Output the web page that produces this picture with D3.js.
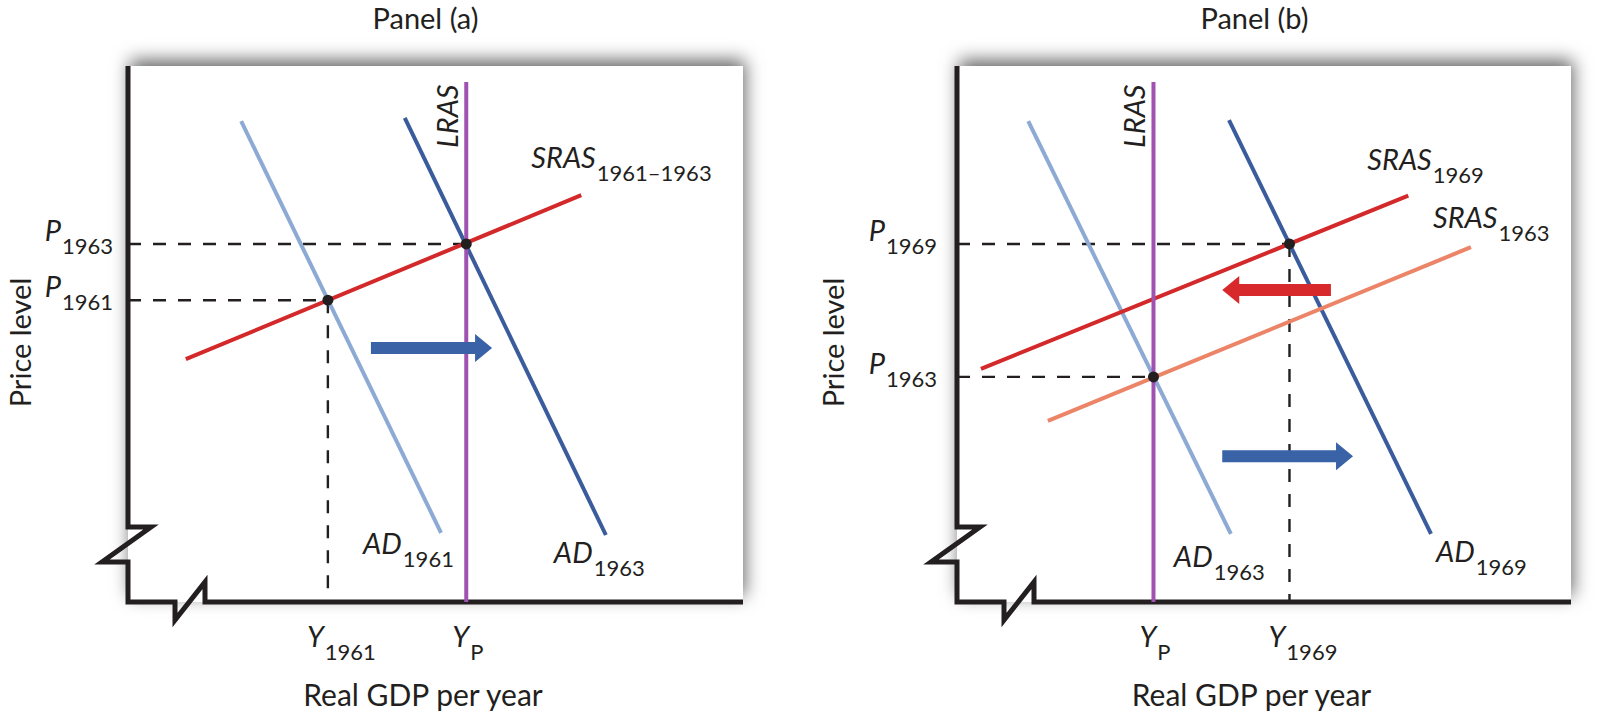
<!DOCTYPE html>
<html>
<head>
<meta charset="utf-8">
<script src="https://cdn.jsdelivr.net/npm/d3@7"></script>
<style>
  html, body { margin: 0; padding: 0; background: #fff; }
  svg { display: block; font-family: Lato, "Open Sans", sans-serif; }
</style>
</head>
<body>
<svg id="chart" width="1609" height="716"></svg>
<script>
// ---- data (both panels use a 0..100 index for real GDP and price level) ----
const panelTitles = ["Panel (a)", "Panel (b)"];
const axisTitles = { x: "Real GDP per year", y: "Price level" };

// panel (a)
const lrasA = 55;                                  // potential output Y_P
const ad1961A = [[18.4, 89.7], [50.9, 12.9]];
const ad1963A = [[45.0, 90.3], [77.7, 12.5]];
const sras6163A = [[9.4, 45.3], [73.7, 75.9]];
const eqA = [ { x: 55.0, y: 66.8 }, { x: 32.5, y: 56.3 } ];   // 1963, 1961
const priceTicksA = [ { v: 66.8, sub: "1963" }, { v: 56.3, sub: "1961" } ];
const gdpTicksA = [ { v: 32.5, main: "Y", sub: "1961" }, { v: 55.0, main: "Y", sub: "P" } ];
const shiftA = [ { from: [39.5, 47.4], to: [59.2, 47.4], kind: "ad" } ];

// panel (b)
const lrasB = 32;
const ad1963B = [[11.6, 89.7], [44.6, 12.7]];
const ad1969B = [[44.3, 89.9], [77.2, 12.7]];
const sras1969B = [[3.9, 43.5], [73.5, 75.8]];
const sras1963B = [[14.8, 33.8], [83.7, 66.2]];
const eqB = [ { x: 54.15, y: 66.8 }, { x: 32.0, y: 42.0 } ];  // 1969, 1963
const priceTicksB = [ { v: 66.8, sub: "1969" }, { v: 42.0, sub: "1963" } ];
const gdpTicksB = [ { v: 32.0, main: "Y", sub: "P" }, { v: 54.15, main: "Y", sub: "1969" } ];
const shiftB = [
  { from: [60.9, 58.2], to: [43.2, 58.2], kind: "sras" },
  { from: [43.2, 27.2], to: [64.5, 27.2], kind: "ad" }
];

// ---- styles ----
const ink = "#231f20";
const colors = {
  adLight: "#8daad4", adDark: "#3b5c9c", sras: "#d3292a", srasLight: "#ec8468",
  lras: "#a052b0", arrowAd: "#3a62a7", arrowSras: "#d7282c"
};

const svg = d3.select("#chart");
const defs = svg.append("defs");
const shadow = defs.append("filter").attr("id", "panel-shadow")
  .attr("x", "-10%").attr("y", "-15%").attr("width", "120%").attr("height", "130%");
shadow.append("feDropShadow")
  .attr("dx", 2).attr("dy", -6).attr("stdDeviation", 9)
  .attr("flood-color", "#000").attr("flood-opacity", 0.6);

function subText(g, x, y, main, sub, anchor) {
  const t = g.append("text").attr("x", x).attr("y", y)
    .attr("text-anchor", anchor || "start").attr("fill", ink);
  t.append("tspan").attr("font-style", "italic").attr("font-size", 29).text(main);
  t.append("tspan").attr("font-size", 22).attr("dy", 13).attr("dx", 1).text(sub);
  return t;
}

function arrow(g, x, y, d, color) {
  const x1 = x(d.from[0]), x2 = x(d.to[0]), yc = y(d.from[1]);
  const dir = Math.sign(x2 - x1), xh = x2 - dir * 17;
  const pts = [[x1, yc - 6], [xh, yc - 6], [xh, yc - 14], [x2, yc],
               [xh, yc + 14], [xh, yc + 6], [x1, yc + 6]];
  g.append("path").attr("d", "M" + pts.join("L") + "Z").attr("fill", color);
}

function drawPanel(cfg) {
  const box = cfg.box;
  const x = d3.scaleLinear().domain([0, 100]).range([box.left, box.right]);
  const y = d3.scaleLinear().domain([0, 100]).range([box.bottom, box.top]);
  const line = d3.line().x(d => x(d[0])).y(d => y(d[1]));
  const g = svg.append("g");

  g.append("text").attr("x", cfg.titleX).attr("y", 29).attr("text-anchor", "middle")
    .attr("font-size", 29).attr("fill", ink).text(cfg.title);

  g.append("rect").attr("x", box.left).attr("y", box.top)
    .attr("width", box.right - box.left).attr("height", box.bottom - box.top)
    .attr("fill", "#fff").attr("filter", "url(#panel-shadow)");

  // dashed guides
  const guides = g.append("g").attr("stroke", ink).attr("stroke-width", 2.4)
    .attr("stroke-dasharray", "13,12").attr("fill", "none");
  cfg.eq.forEach(p => {
    guides.append("line").attr("x1", x(0)).attr("x2", x(p.x)).attr("y1", y(p.y)).attr("y2", y(p.y));
  });
  const vp = cfg.eq[cfg.vGuide];
  guides.append("line").attr("x1", x(vp.x)).attr("x2", x(vp.x)).attr("y1", y(vp.y)).attr("y2", y(0));

  cfg.curves.forEach(c => {
    g.append("path").attr("d", line(c.pts)).attr("fill", "none")
      .attr("stroke", c.color).attr("stroke-width", 4);
  });

  // axes with break marks
  const x0 = x(0), y0 = y(0);
  const axisPts = [[x0, y(100)], [x0, y0 - 75], [x0 + 23, y0 - 75], [x0 - 26, y0 - 40],
    [x0, y0 - 40], [x0, y0], [x0 + 47, y0], [x0 + 47, y0 + 18], [x0 + 77, y0 - 20],
    [x0 + 77, y0], [x(100), y0]];
  g.append("path").attr("d", "M" + axisPts.join("L")).attr("fill", "none")
    .attr("stroke", ink).attr("stroke-width", 5).attr("stroke-linejoin", "miter")
    .attr("stroke-miterlimit", 6);

  // LRAS
  g.append("line").attr("x1", x(cfg.lras)).attr("x2", x(cfg.lras))
    .attr("y1", y(97)).attr("y2", y(0)).attr("stroke", colors.lras).attr("stroke-width", 4);
  g.append("text").attr("transform", `translate(${x(cfg.lras) - 8.5},148) rotate(-90)`)
    .attr("font-style", "italic").attr("font-size", 29).attr("fill", ink).text("LRAS");

  g.selectAll("circle.eq").data(cfg.eq).join("circle")
    .attr("cx", d => x(d.x)).attr("cy", d => y(d.y)).attr("r", 5.5).attr("fill", ink);

  cfg.shifts.forEach(s => arrow(g, x, y, s, s.kind === "ad" ? colors.arrowAd : colors.arrowSras));

  // curve labels, placed off the right-hand end of each curve
  cfg.curves.forEach(c => {
    const end = c.pts[1];
    subText(g, x(end[0]) + c.label.dx, y(end[1]) + c.label.dy, c.label.main, c.label.sub);
  });

  cfg.priceTicks.forEach(t => subText(g, x0 - cfg.pTickGap, y(t.v) - 3, "P", t.sub, "end"));
  cfg.gdpTicks.forEach(t => subText(g, x(t.v) + (t.sub === "P" ? -14 : -21), 647, t.main, t.sub));

  g.append("text").attr("x", cfg.xTitleX).attr("y", 706).attr("text-anchor", "middle")
    .attr("font-size", 30).attr("fill", ink).text(axisTitles.x);
  g.append("text").attr("transform", `translate(${cfg.yTitleX},342.5) rotate(-90)`)
    .attr("text-anchor", "middle").attr("font-size", 29).attr("fill", ink).text(axisTitles.y);
}

drawPanel({
  title: panelTitles[0], titleX: 425.5, xTitleX: 423, yTitleX: 31, pTickGap: 15,
  box: { left: 128, right: 743, top: 66, bottom: 602 },
  lras: lrasA, eq: eqA, vGuide: 1, priceTicks: priceTicksA, gdpTicks: gdpTicksA, shifts: shiftA,
  curves: [
    { pts: ad1961A, color: colors.adLight, label: { main: "AD", sub: "1961", dx: -78, dy: 21 } },
    { pts: ad1963A, color: colors.adDark, label: { main: "AD", sub: "1963", dx: -52, dy: 28 } },
    { pts: sras6163A, color: colors.sras, label: { main: "SRAS", sub: "1961–1963", dx: -50, dy: -27 } }
  ]
});

drawPanel({
  title: panelTitles[1], titleX: 1254.5, xTitleX: 1251.5, yTitleX: 844, pTickGap: 20,
  box: { left: 957, right: 1571, top: 66, bottom: 602 },
  lras: lrasB, eq: eqB, vGuide: 0, priceTicks: priceTicksB, gdpTicks: gdpTicksB, shifts: shiftB,
  curves: [
    { pts: ad1963B, color: colors.adLight, label: { main: "AD", sub: "1963", dx: -57, dy: 33 } },
    { pts: ad1969B, color: colors.adDark, label: { main: "AD", sub: "1969", dx: 5, dy: 28 } },
    { pts: sras1963B, color: colors.srasLight, label: { main: "SRAS", sub: "1963", dx: -38, dy: -19 } },
    { pts: sras1969B, color: colors.sras, label: { main: "SRAS", sub: "1969", dx: -41, dy: -26 } }
  ]
});
</script>
</body>
</html>
